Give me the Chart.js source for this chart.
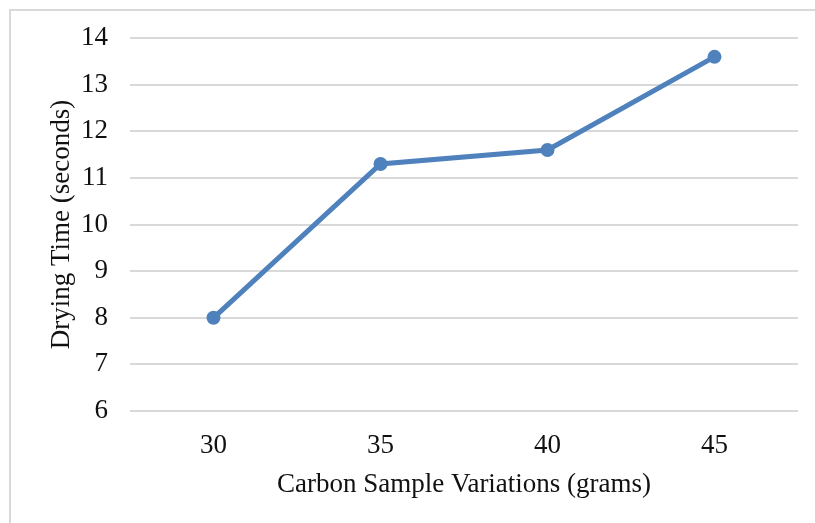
<!DOCTYPE html>
<html>
<head>
<meta charset="utf-8">
<script src="https://cdn.jsdelivr.net/npm/chart.js@4"></script>
<style>
  html, body { margin: 0; padding: 0; background: #fff; overflow: hidden; }
  .frame { position: absolute; left: 9px; top: 9px; width: 900px; height: 600px; border: 2px solid #d9d9d9; }
  .wrap { position: absolute; left: 0; top: 0; width: 815px; height: 523px; }
</style>
</head>
<body>
<div class="frame"></div>
<div class="wrap"><canvas id="chart"></canvas></div>
<script>
const sampleGrams = ['30', '35', '40', '45'];
const dryingSeconds = [8, 11.3, 11.6, 13.6];
const yMin = 6;
const yMax = 14;

const font = { family: '"Liberation Serif", "Times New Roman", serif', size: 27 };

new Chart(document.getElementById('chart'), {
  type: 'line',
  data: {
    labels: sampleGrams,
    datasets: [{
      data: dryingSeconds,
      borderColor: '#4f81bd',
      backgroundColor: '#4f81bd',
      borderWidth: 5,
      pointRadius: 7,
      pointHoverRadius: 7,
      pointBorderWidth: 0,
      tension: 0
    }]
  },
  options: {
    responsive: true,
    maintainAspectRatio: false,
    animation: false,
    layout: { padding: { top: 38, right: 17, bottom: 0, left: 0 } },
    plugins: { legend: { display: false }, tooltip: { enabled: false } },
    scales: {
      x: {
        offset: true,
        grid: { display: false, drawTicks: false },
        border: { display: false },
        ticks: { color: '#111', font: font, padding: 19 },
        title: { display: true, text: 'Carbon Sample Variations (grams)', color: '#111', font: font, padding: { top: 0, bottom: 22 } },
        afterFit: (scale) => { scale.height = 112; }
      },
      y: {
        min: yMin,
        max: yMax,
        grid: { color: '#d9d9d9', lineWidth: 2, drawTicks: false },
        border: { display: false },
        ticks: { stepSize: 1, color: '#111', font: font, padding: 22 },
        title: { display: true, text: 'Drying Time (seconds)', color: '#111', font: font, padding: { top: 46, bottom: 0 } },
        afterFit: (scale) => { scale.width = 130; }
      }
    }
  }
});
</script>
</body>
</html>
